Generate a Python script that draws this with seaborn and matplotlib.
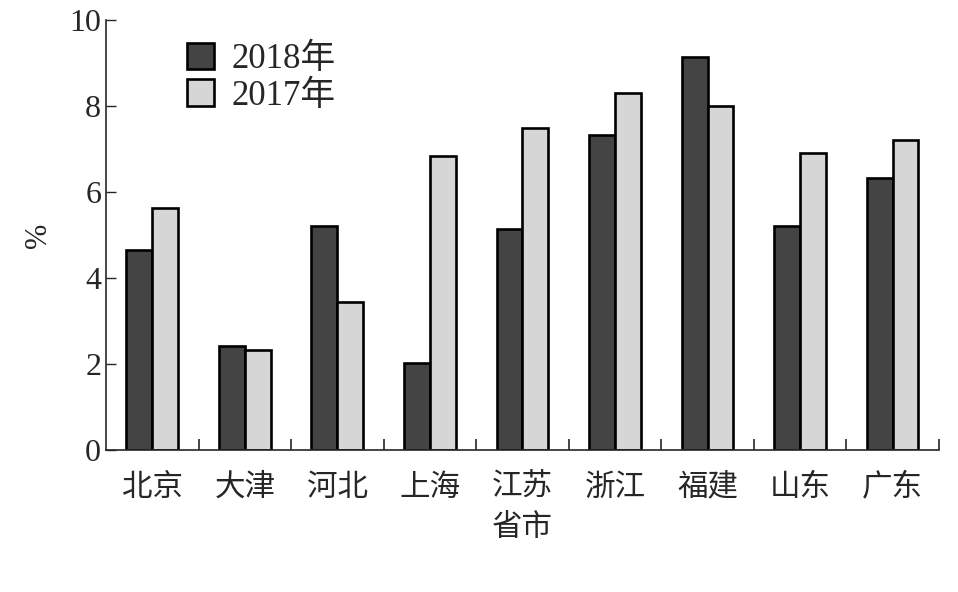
import pandas as pd
import seaborn as sns
import matplotlib.pyplot as plt
from matplotlib.ticker import FixedLocator

provinces = ["北京", "大津", "河北", "上海", "江苏", "浙江", "福建", "山东", "广东"]
v2018 = [4.65, 2.42, 5.21, 2.03, 5.14, 7.33, 9.15, 5.21, 6.33]
v2017 = [5.63, 2.33, 3.44, 6.84, 7.50, 8.31, 8.01, 6.92, 7.21]

df = pd.DataFrame({
    "省市": provinces * 2,
    "value": v2018 + v2017,
    "year": ["2018年"] * len(provinces) + ["2017年"] * len(provinces),
})

sns.set_style("ticks")
plt.rcParams["font.family"] = ["Liberation Serif", "Noto Sans CJK SC"]

fig = plt.figure(figsize=(9.58, 5.92), dpi=100)
ax = fig.add_axes([0.1107, 0.240, 0.8693, 0.726])

sns.barplot(data=df, x="省市", y="value", hue="year",
            palette={"2018年": "#444444", "2017年": "#d6d6d6"},
            width=0.56, edgecolor="black", linewidth=1.9, ax=ax)

ax.set_xlim(-0.5, 8.5)
ax.set_ylim(0, 10)
ax.set_yticks([0, 2, 4, 6, 8, 10])
ax.tick_params(axis="y", direction="in", length=7, width=1, labelsize=23)
ax.tick_params(axis="x", which="major", length=0, labelsize=22, pad=17)
ax.xaxis.set_minor_locator(FixedLocator([i + 0.5 for i in range(9)]))
ax.tick_params(axis="x", which="minor", direction="in", length=8, width=1.2)
sns.despine(ax=ax)
for s in ["left", "bottom"]:
    ax.spines[s].set_linewidth(1.2)

ax.set_xlabel("省市", fontsize=22, labelpad=8)
ax.set_ylabel("%", fontsize=22, labelpad=12)

ax.legend(loc="upper left", bbox_to_anchor=(0.08, 0.98), frameon=False,
          fontsize=25, handlelength=0.8, handleheight=0.8,
          handletextpad=0.5, labelspacing=0.1, borderaxespad=0)

plt.savefig("out.png", dpi=100)
